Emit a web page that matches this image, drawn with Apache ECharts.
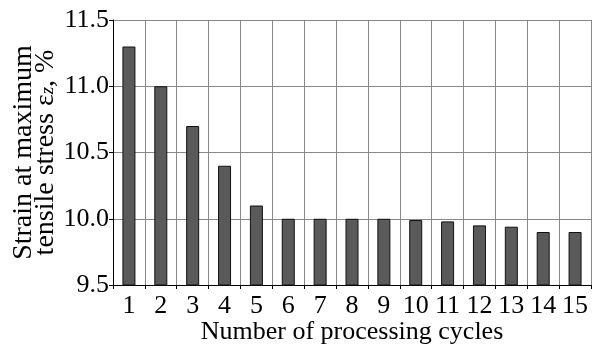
<!DOCTYPE html>
<html>
<head>
<meta charset="utf-8">
<script src="https://cdn.jsdelivr.net/npm/echarts@6/dist/echarts.min.js"></script>
<style>html,body{margin:0;padding:0;background:#fff}#c{width:595px;height:347px}</style>
</head>
<body>
<div id="c"></div>
<script>
const categories = ['1','2','3','4','5','6','7','8','9','10','11','12','13','14','15'];
const strainValues = [11.3, 11.0, 10.7, 10.4, 10.1, 10.0, 10.0, 10.0, 10.0, 9.99, 9.98, 9.95, 9.94, 9.9, 9.9];
const yTicks = [9.5, 10.0, 10.5, 11.0, 11.5];
const xTitle = 'Number of processing cycles';
const yTitleLine1 = 'Strain at maximum';
const yTitleLine2 = 'tensile stress ε';

const FONT = '"Liberation Serif", "Times New Roman", serif';
const chart = echarts.init(document.getElementById('c'));
chart.setOption({
  animation: false,
  backgroundColor: '#fff',
  grid: { left: 113, right: 4, top: 20, bottom: 62, containLabel: false, outerBoundsMode: 'none' },
  xAxis: {
    type: 'category',
    data: categories,
    boundaryGap: true,
    name: xTitle,
    nameLocation: 'middle',
    nameGap: 34,
    nameMoveOverlap: false,
    nameTextStyle: { fontFamily: FONT, fontSize: 26, color: '#000' },
    axisLine: { show: true, lineStyle: { color: '#000', width: 1 } },
    axisTick: { show: true, length: 4, interval: 0, lineStyle: { color: '#000' } },
    axisLabel: { interval: 0, margin: 8, fontFamily: FONT, fontSize: 26, color: '#000' },
    splitLine: { show: true, interval: 0, lineStyle: { color: '#888', width: 1 } }
  },
  yAxis: {
    type: 'value',
    min: yTicks[0],
    max: yTicks[yTicks.length - 1],
    interval: 0.5,
    name: '{n|' + yTitleLine1 + '}\n{n|' + yTitleLine2 + '}{s|z}{n|, %}',
    nameLocation: 'middle',
    nameGap: 56,
    nameRotate: 90,
    nameMoveOverlap: false,
    nameTextStyle: {
      fontFamily: FONT, fontSize: 28, color: '#000', lineHeight: 22,
      rich: {
        n: { fontFamily: FONT, fontSize: 28, color: '#000', lineHeight: 22 },
        s: { fontFamily: FONT, fontSize: 19, fontStyle: 'italic', color: '#000', lineHeight: 22, verticalAlign: 'bottom', padding: [8, 0, 0, 0] }
      }
    },
    axisLine: { show: true, lineStyle: { color: '#000', width: 1 } },
    axisTick: { show: true, length: 4, lineStyle: { color: '#000' } },
    axisLabel: { margin: 4, fontFamily: FONT, fontSize: 26, color: '#000', formatter: v => v.toFixed(1) },
    splitLine: { show: true, lineStyle: { color: '#888', width: 1 } }
  },
  series: [{
    type: 'bar',
    data: strainValues,
    barWidth: 13,
    itemStyle: { color: '#5a5a5a', borderColor: '#111', borderWidth: 1 }
  }]
});
</script>
</body>
</html>
